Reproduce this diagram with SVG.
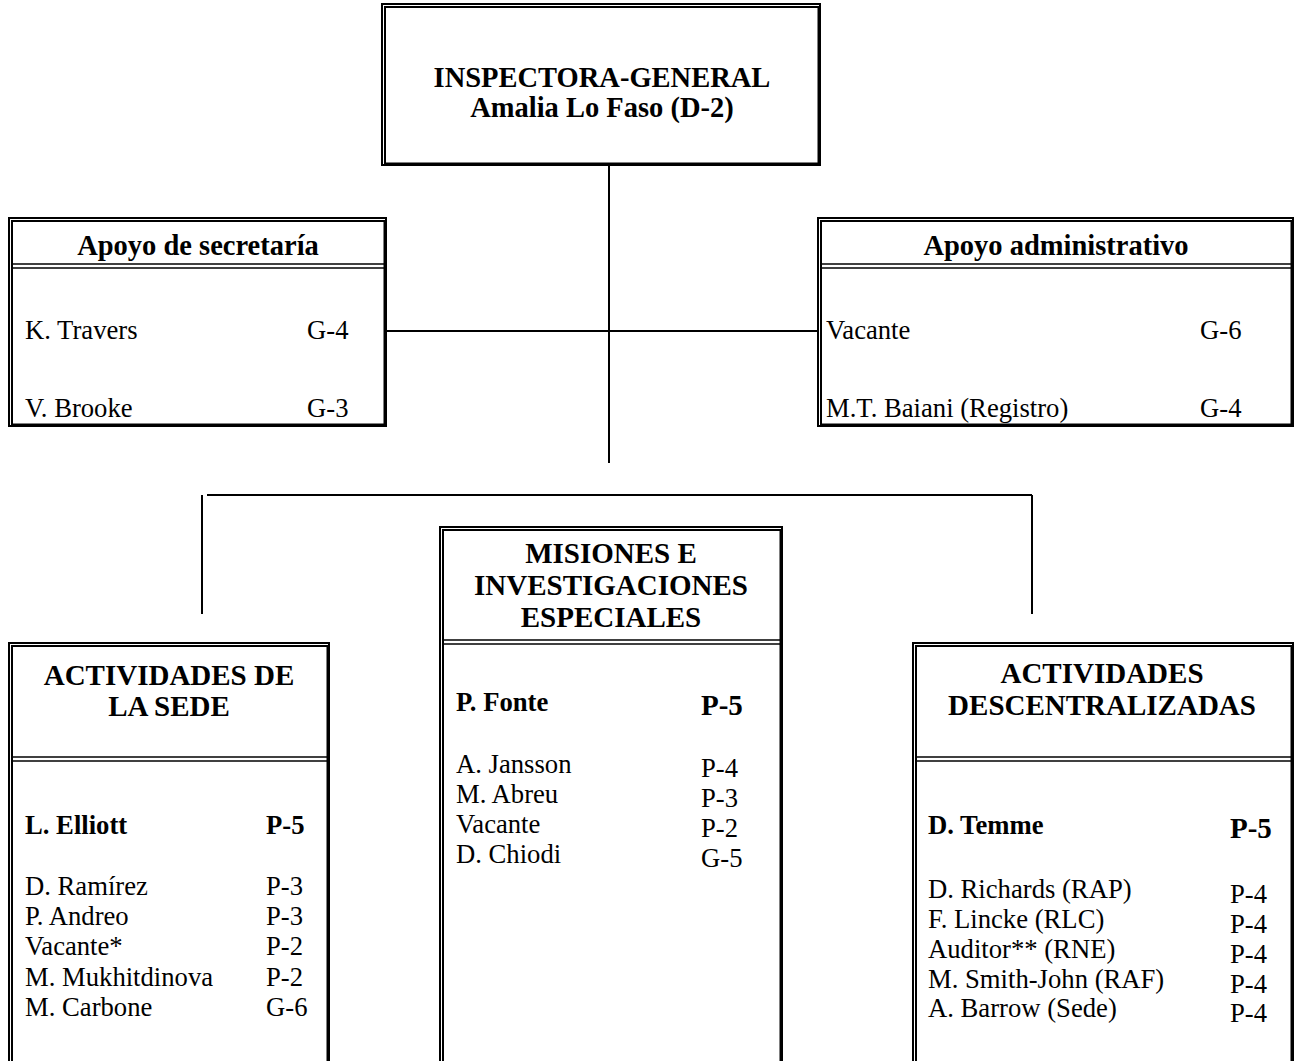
<svg xmlns="http://www.w3.org/2000/svg" width="1299" height="1061" viewBox="0 0 1299 1061">
<style>
.o{fill:none;stroke:#000;stroke-width:2}
.dv{stroke:#000;stroke-width:1.6}
.c{stroke:#000;stroke-width:2;fill:none}
text{font-family:"Liberation Serif","Times New Roman",serif;fill:#000}
.t{font-weight:bold;font-size:28.5px;text-anchor:middle}
.h{font-weight:bold;font-size:29px;text-anchor:middle}
.n{font-size:26.67px}
.b{font-size:26.67px;font-weight:bold}
.bb{font-size:29px;font-weight:bold}
</style>
<rect width="1299" height="1061" fill="#fff"/>
<g id="connectors">
<line class="c" x1="609" y1="166" x2="609" y2="463"/>
<line class="c" x1="387" y1="331" x2="817" y2="331"/>
<line class="c" x1="207" y1="495" x2="1032" y2="495"/>
<line class="c" x1="202" y1="495" x2="202" y2="614"/>
<line class="c" x1="1032" y1="495" x2="1032" y2="614"/>
</g>
<g id="inspectora">
<rect class="o" x="382" y="4" width="438" height="161"/>
<rect class="o" x="385" y="7" width="433.5" height="156.5"/>
<text class="t" x="602" y="87">INSPECTORA-GENERAL</text>
<text class="t" x="602" y="117">Amalia Lo Faso (D-2)</text>
</g>
<g id="secretaria">
<rect class="o" x="9" y="218" width="377" height="208"/>
<rect class="o" x="12" y="221" width="372.5" height="203.5"/>
<line class="dv" x1="12" y1="264" x2="384" y2="264"/>
<line class="dv" x1="12" y1="268" x2="384" y2="268"/>
<text class="t" x="198" y="255">Apoyo de secretaría</text>
<text class="n" x="25" y="339">K. Travers</text>
<text class="n" x="307" y="339">G-4</text>
<text class="n" x="25" y="417">V. Brooke</text>
<text class="n" x="307" y="417">G-3</text>
</g>
<g id="administrativo">
<rect class="o" x="818" y="218" width="475" height="208"/>
<rect class="o" x="821" y="221" width="470.5" height="203.5"/>
<line class="dv" x1="821" y1="264" x2="1291" y2="264"/>
<line class="dv" x1="821" y1="268" x2="1291" y2="268"/>
<text class="t" x="1056" y="255">Apoyo administrativo</text>
<text class="n" x="826" y="339">Vacante</text>
<text class="n" x="1200" y="339">G-6</text>
<text class="n" x="826" y="417">M.T. Baiani (Registro)</text>
<text class="n" x="1200" y="417">G-4</text>
</g>
<g id="sede">
<rect class="o" x="9" y="643" width="320" height="430"/>
<rect class="o" x="12" y="646" width="315.5" height="425"/>
<line class="dv" x1="12" y1="757" x2="327" y2="757"/>
<line class="dv" x1="12" y1="761" x2="327" y2="761"/>
<text class="h" x="169" y="685">ACTIVIDADES DE</text>
<text class="h" x="169" y="716">LA SEDE</text>
<text class="b" x="25" y="834">L. Elliott</text>
<text class="b" x="266" y="834">P-5</text>
<text class="n" x="25" y="895">D. Ramírez</text>
<text class="n" x="266" y="895">P-3</text>
<text class="n" x="25" y="925">P. Andreo</text>
<text class="n" x="266" y="925">P-3</text>
<text class="n" x="25" y="955">Vacante*</text>
<text class="n" x="266" y="955">P-2</text>
<text class="n" x="25" y="986">M. Mukhitdinova</text>
<text class="n" x="266" y="986">P-2</text>
<text class="n" x="25" y="1016">M. Carbone</text>
<text class="n" x="266" y="1016">G-6</text>
</g>
<g id="misiones">
<rect class="o" x="440" y="527" width="342" height="546"/>
<rect class="o" x="443" y="530" width="337.5" height="541"/>
<line class="dv" x1="443" y1="640" x2="780" y2="640"/>
<line class="dv" x1="443" y1="644" x2="780" y2="644"/>
<text class="h" x="611" y="563">MISIONES E</text>
<text class="h" x="611" y="595">INVESTIGACIONES</text>
<text class="h" x="611" y="627">ESPECIALES</text>
<text class="b" x="456" y="711">P. Fonte</text>
<text class="bb" x="701" y="715">P-5</text>
<text class="n" x="456" y="773">A. Jansson</text>
<text class="n" x="701" y="777">P-4</text>
<text class="n" x="456" y="803">M. Abreu</text>
<text class="n" x="701" y="807">P-3</text>
<text class="n" x="456" y="833">Vacante</text>
<text class="n" x="701" y="837">P-2</text>
<text class="n" x="456" y="863">D. Chiodi</text>
<text class="n" x="701" y="867">G-5</text>
</g>
<g id="descentralizadas">
<rect class="o" x="913" y="643" width="380" height="430"/>
<rect class="o" x="916" y="646" width="375.5" height="425"/>
<line class="dv" x1="916" y1="757" x2="1291" y2="757"/>
<line class="dv" x1="916" y1="761" x2="1291" y2="761"/>
<text class="h" x="1102" y="683">ACTIVIDADES</text>
<text class="h" x="1102" y="715">DESCENTRALIZADAS</text>
<text class="b" x="928" y="834">D. Temme</text>
<text class="bb" x="1230" y="838">P-5</text>
<text class="n" x="928" y="898">D. Richards (RAP)</text>
<text class="n" x="1230" y="903">P-4</text>
<text class="n" x="928" y="928">F. Lincke (RLC)</text>
<text class="n" x="1230" y="933">P-4</text>
<text class="n" x="928" y="958">Auditor** (RNE)</text>
<text class="n" x="1230" y="963">P-4</text>
<text class="n" x="928" y="988">M. Smith-John (RAF)</text>
<text class="n" x="1230" y="993">P-4</text>
<text class="n" x="928" y="1017">A. Barrow (Sede)</text>
<text class="n" x="1230" y="1022">P-4</text>
</g>
</svg>
